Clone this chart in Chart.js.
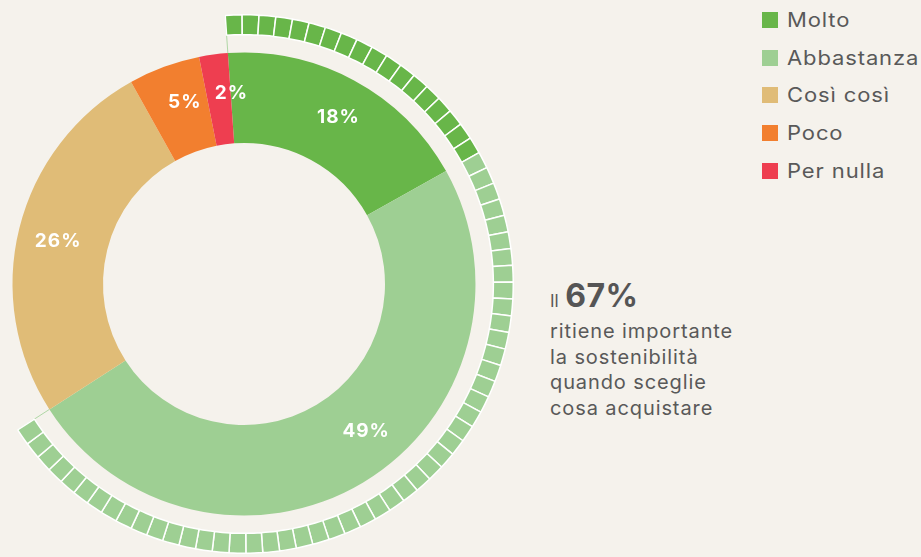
<!DOCTYPE html>
<html>
<head>
<meta charset="utf-8">
<script src="https://cdn.jsdelivr.net/npm/chart.js@4"></script>
<style>
  html, body { margin: 0; padding: 0; }
  body {
    width: 921px; height: 557px; overflow: hidden; position: relative;
    background: #f5f2ec; font-family: Inter, "Open Sans", sans-serif; color: #595959;
  }
  #wrap { position: absolute; left: -26px; top: 14px; width: 540px; height: 540px; }
  #legend { position: absolute; left: 762px; top: 1px; }
  #legend div { height: 37.7px; display: flex; align-items: center; font-size: 20px; }
  #legend span.txt { display: inline-block; transform: scaleX(1.1); transform-origin: left center; letter-spacing: 0.8px; }
  #legend span.box { width: 16px; height: 16px; margin-right: 9px; display: inline-block; }
  #note { position: absolute; left: 550px; top: 278px; font-size: 20px; line-height: 25.5px; letter-spacing: 0.9px; }
  #note .big { font-size: 32px; font-weight: 700; color: #555; letter-spacing: 0.5px; }
  #note .il { font-size: 17px; letter-spacing: 0; }
</style>
</head>
<body>
<div id="wrap"><canvas id="chart"></canvas></div>
<div id="legend"></div>
<div id="note">
  <div style="line-height:36px"><span class="il">Il</span> <span class="big">67%</span></div>
  <div>ritiene importante</div>
  <div>la sostenibilità</div>
  <div>quando sceglie</div>
  <div>cosa acquistare</div>
</div>
<script>
const labels = ['Molto', 'Abbastanza', 'Così così', 'Poco', 'Per nulla'];
const values = [18, 49, 26, 5, 2];
const colors = ['#68b649', '#9ecf93', '#e0bc77', '#f27f2f', '#ee3e50'];
// outer dotted ring: one tile per percent of "Molto" + "Abbastanza"
const ringCounts = [18, 49];
const ringTotal = 100;

const legend = document.getElementById('legend');
labels.forEach((l, i) => {
  const row = document.createElement('div');
  row.innerHTML = `<span class="box" style="background:${colors[i]}"></span><span class="txt">${l}</span>`;
  legend.appendChild(row);
});

const tileData = [];
const tileBg = [];
const tileBorder = [];
ringCounts.forEach((n, i) => {
  for (let k = 0; k < n; k++) {
    tileData.push(1);
    tileBg.push(colors[i]);
    tileBorder.push('#ffffff');
  }
});
const filled = tileData.length;
for (let k = filled; k < ringTotal; k++) {
  tileData.push(1);
  tileBg.push('transparent');
  tileBorder.push('transparent');
}

const edgeLines = {
  id: 'edgeLines',
  beforeDatasetsDraw(chart) {
    const ring = chart.getDatasetMeta(0).data;
    const main = chart.getDatasetMeta(2).data[0];
    const ctx = chart.ctx;
    const a0 = ring[0].startAngle;
    const a1 = ring[filled - 1].endAngle;
    ctx.save();
    ctx.strokeStyle = 'rgba(158,207,147,0.8)';
    ctx.lineWidth = 1;
    [a0, a1].forEach(a => {
      ctx.beginPath();
      ctx.moveTo(main.x + Math.cos(a) * main.outerRadius, main.y + Math.sin(a) * main.outerRadius);
      ctx.lineTo(main.x + Math.cos(a) * ring[0].outerRadius, main.y + Math.sin(a) * ring[0].outerRadius);
      ctx.stroke();
    });
    ctx.restore();
  }
};

// small angular nudges (degrees) so labels sit where the original put them
const labelShift = [1, -8.5, -1, 2, 3.7];

const sliceLabels = {
  id: 'sliceLabels',
  afterDatasetsDraw(chart) {
    const ctx = chart.ctx;
    const meta = chart.getDatasetMeta(2);
    ctx.save();
    ctx.fillStyle = '#ffffff';
    ctx.font = 'bold 19px Inter, sans-serif';
    ctx.letterSpacing = '1px';
    ctx.textAlign = 'center';
    ctx.textBaseline = 'middle';
    meta.data.forEach((arc, i) => {
      const mid = (arc.startAngle + arc.endAngle) / 2 + labelShift[i] * Math.PI / 180;
      const r = (arc.innerRadius + arc.outerRadius) / 2 + 5;
      ctx.fillText(values[i] + '%', arc.x + Math.cos(mid) * r + 0.5, arc.y + Math.sin(mid) * r);
    });
    ctx.restore();
  }
};

new Chart(document.getElementById('chart'), {
  type: 'doughnut',
  data: {
    labels: tileData.map((_, i) => 't' + i),
    datasets: [
      { data: tileData, backgroundColor: tileBg, borderColor: tileBorder, borderWidth: 1.5, weight: 20 },
      { data: [100], backgroundColor: 'transparent', borderWidth: 0, weight: 18 },
      { data: values, backgroundColor: colors, borderWidth: 0, weight: 91 }
    ]
  },
  options: {
    responsive: true,
    maintainAspectRatio: false,
    animation: false,
    events: [],
    rotation: -4,
    cutout: 141,
    layout: { padding: 0 },
    plugins: { legend: { display: false }, tooltip: { enabled: false } }
  },
  plugins: [edgeLines, sliceLabels]
});
</script>
</body>
</html>
